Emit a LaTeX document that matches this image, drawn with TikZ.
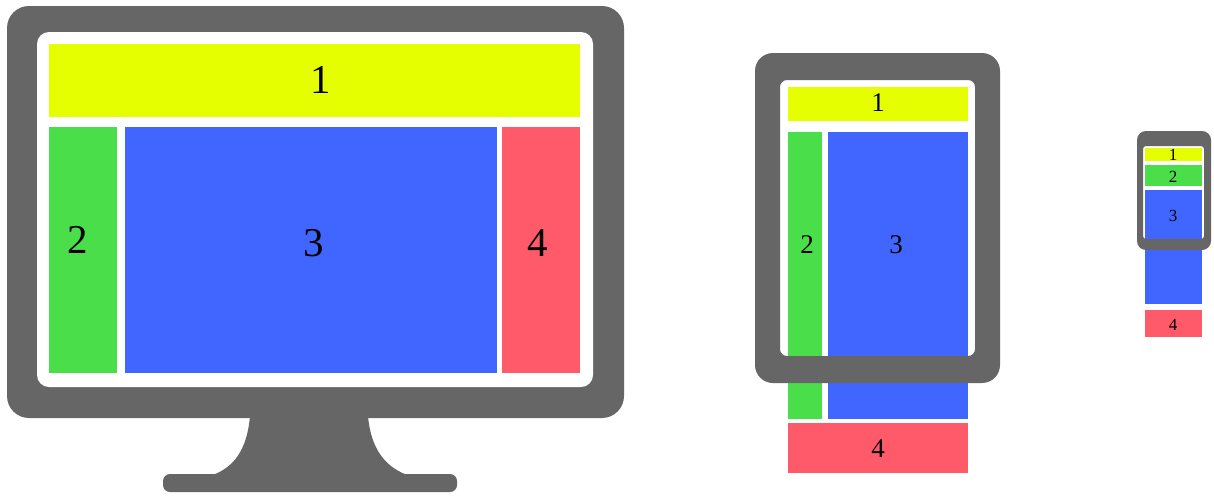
\documentclass[tikz,border=0pt]{standalone}
\usepackage{fontspec}
\setmainfont{Liberation Serif}
\begin{document}
\begin{tikzpicture}[x=1pt,y=-1pt]
\definecolor{devgray}{HTML}{666666}
\definecolor{cyel}{HTML}{E5FF00}
\definecolor{cgrn}{HTML}{4ADE4A}
\definecolor{cblu}{HTML}{4166FF}
\definecolor{cred}{HTML}{FF5A6A}
\tikzset{
  body/.style={fill=devgray},
  screen/.style={fill=white},
  lab/.style={inner sep=0pt, text=black},
  big/.style={lab, font=\fontsize{41}{41}\selectfont},
  mid/.style={lab, font=\fontsize{27}{27}\selectfont},
  small/.style={lab, font=\fontsize{17}{17}\selectfont}
}
\fill[white] (0,0) rectangle (1214,498);
\useasboundingbox (0,0) rectangle (1214,498);

% ---------- Monitor ----------
\fill[body, rounded corners=7pt] (163,474) rectangle (457,492);
\fill[body] (250,410) -- (250,416) .. controls (247,450) and (234,468) .. (210,476)
  -- (410,476) .. controls (386,468) and (371,450) .. (368,416) -- (368,410) -- cycle;
\fill[body, rounded corners=22pt] (7,6) rectangle (624,418);
\fill[screen, rounded corners=12pt] (37,32) rectangle (593,387);
\fill[cyel] (49,44) rectangle (580,117);
\fill[cgrn] (49,127) rectangle (117,373);
\fill[cblu] (125,127) rectangle (497,373);
\fill[cred] (502,127) rectangle (580,373);
\node[big] (m1) at (321,80) {1};
\node[big] (m2) at (78,240) {2};
\node[big] (m3) at (314,243) {3};
\node[big] (m4) at (538,243) {4};

% ---------- Tablet ----------
\fill[screen, rounded corners=7pt] (780,80) rectangle (975,356);
\fill[cyel] (788,87) rectangle (968,121);
\fill[cgrn] (788,132) rectangle (822,419);
\fill[cblu] (828,132) rectangle (968,419);
\fill[cred] (788,423) rectangle (968,473);
\fill[body, even odd rule]
  [rounded corners=18pt] (755,53) rectangle (1000,383)
  [rounded corners=7pt] (780,80) rectangle (975,356);
\node[mid] (t1) at (878,103) {1};
\node[mid] (t2) at (807,245) {2};
\node[mid] (t3) at (896,245) {3};
\node[mid] (t4) at (878,449) {4};

% ---------- Phone ----------
\fill[screen, rounded corners=3pt] (1143,146) rectangle (1204,239);
\fill[cyel] (1145,148) rectangle (1202,161);
\fill[cgrn] (1145,165) rectangle (1202,186);
\fill[cblu] (1145,190) rectangle (1202,304);
\fill[cred] (1145,310) rectangle (1202,337);
\fill[body, even odd rule]
  [rounded corners=9pt] (1137,131) rectangle (1211,250)
  [rounded corners=3pt] (1143,146) rectangle (1204,239);
\node[small] (p1) at (1173,155) {1};
\node[small] (p2) at (1173,177) {2};
\node[small] (p3) at (1173,216) {3};
\node[small] (p4) at (1173,325) {4};
\end{tikzpicture}
\end{document}
